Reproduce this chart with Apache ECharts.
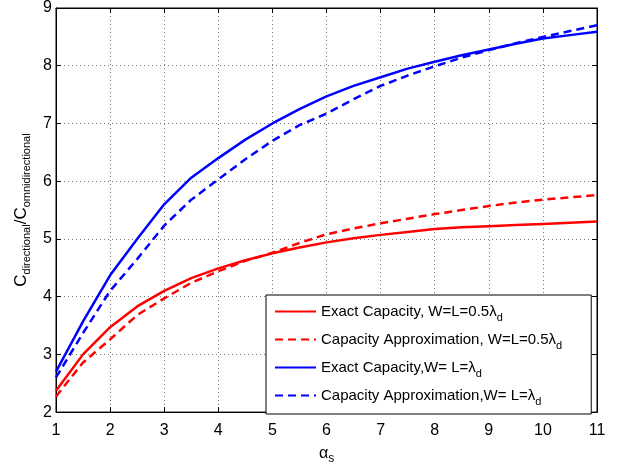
<!DOCTYPE html>
<html>
<head>
<meta charset="utf-8">
<script src="https://cdn.jsdelivr.net/npm/echarts@6/dist/echarts.min.js"></script>
<style>html,body{margin:0;padding:0;background:#fff;}#c{width:626px;height:470px;}</style>
</head>
<body>
<div id="c"></div>
<script>
var alphaS = [1,1.5,2,2.5,3,3.5,4,4.5,5,5.5,6,6.5,7,7.5,8,8.5,9,9.5,10,10.5,11];
var exactHalf   = [2.37,3.00,3.47,3.83,4.10,4.32,4.49,4.63,4.75,4.85,4.94,5.01,5.07,5.12,5.17,5.20,5.22,5.24,5.26,5.28,5.30];
var approxHalf  = [2.27,2.86,3.26,3.68,3.97,4.24,4.44,4.62,4.76,4.93,5.08,5.18,5.27,5.35,5.43,5.50,5.57,5.63,5.68,5.72,5.76];
var exactFull   = [2.70,3.57,4.37,5.00,5.60,6.06,6.40,6.72,7.00,7.25,7.47,7.65,7.80,7.95,8.07,8.18,8.28,8.38,8.47,8.53,8.59];
var approxFull  = [2.60,3.37,4.10,4.65,5.23,5.68,6.03,6.38,6.70,6.97,7.17,7.42,7.65,7.83,7.99,8.14,8.27,8.39,8.50,8.60,8.70];
var seriesNames = ['Exact Capacity, W=L=0.5λd','Capacity Approximation, W=L=0.5λd','Exact Capacity,W= L=λd','Capacity Approximation,W= L=λd'];
var legendMain = ['Exact Capacity, W=L=0.5λ','Capacity Approximation, W=L=0.5λ','Exact Capacity,W= L=λ','Capacity Approximation,W= L=λ'];
var legendSub = ['d','d','d','d'];
var xTicks = [1,2,3,4,5,6,7,8,9,10,11];
var yTicks = [2,3,4,5,6,7,8,9];

var FONT = '"Liberation Sans", Arial, Helvetica, sans-serif';
function pairs(ys){ return alphaS.map(function(x,i){return [x, ys[i]];}); }
var chart = echarts.init(document.getElementById('c'));
var axisCommon = {
  type:'value', axisLine:{show:true,lineStyle:{color:'#000',width:1}},
  axisTick:{show:true,inside:true,length:5,lineStyle:{color:'#000',width:1}}
};
var colors = ['#ff0000','#ff0000','#0000ff','#0000ff'];
var types = ['solid',[8,5],'solid',[8,5]];
var datas = [exactHalf, approxHalf, exactFull, approxFull];
var series = datas.map(function(d,i){
  return {name:seriesNames[i], type:'line', data:pairs(d), showSymbol:false, symbol:'none',
    lineStyle:{color:colors[i], width:2.5, type:types[i]}, itemStyle:{color:colors[i]}, animation:false, z:3};
});
chart.setOption({
  animation:false,
  textStyle:{fontFamily:FONT},
  grid:{left:56,right:29,top:7,bottom:49,show:true,borderColor:'#000',borderWidth:1,backgroundColor:'#fff'},
  xAxis:[Object.assign({}, axisCommon, {
    min:xTicks[0], max:xTicks[xTicks.length-1], interval:1, position:'bottom',
    axisLabel:{show:true,color:'#000',fontSize:16,margin:10,fontFamily:FONT},
    splitLine:{show:true,lineStyle:{color:'#777',width:1,type:[1,3]}},
    name:'{a|α}{s|s}', nameLocation:'middle', nameGap:18,
    nameTextStyle:{rich:{a:{fontSize:16,color:'#000',fontFamily:FONT,lineHeight:20},s:{fontSize:12,color:'#000',fontFamily:FONT,lineHeight:14,padding:[10,0,0,0]}}}
  }), Object.assign({}, axisCommon, {
    min:xTicks[0], max:xTicks[xTicks.length-1], interval:1, position:'top',
    axisLabel:{show:false}, splitLine:{show:false}
  })],
  yAxis:[Object.assign({}, axisCommon, {
    min:yTicks[0], max:yTicks[yTicks.length-1], interval:1, position:'left',
    axisLabel:{show:true,color:'#000',fontSize:16,margin:4,fontFamily:FONT},
    splitLine:{show:true,lineStyle:{color:'#777',width:1,type:[1,3]}},
    name:'{c|C}{s|directional}{c|/C}{s|omnidirectional}', nameLocation:'middle', nameGap:18, nameRotate:90,
    nameTextStyle:{rich:{c:{fontSize:17,color:'#000',fontFamily:FONT,lineHeight:20},s:{fontSize:11,color:'#000',fontFamily:FONT,lineHeight:13,padding:[10,0,0,0]}}}
  }), Object.assign({}, axisCommon, {
    min:yTicks[0], max:yTicks[yTicks.length-1], interval:1, position:'right',
    axisLabel:{show:false}, splitLine:{show:false}
  })],
  legend:{
    show:true, orient:'vertical', left:266, top:295,
    data:seriesNames,
    backgroundColor:'#fff', borderColor:'#000', borderWidth:1,
    padding:[5,29,7,8], itemGap:5, itemWidth:41, itemHeight:14,
    itemStyle:{color:'transparent',borderColor:'transparent',borderWidth:0,opacity:0},
    formatter:function(name){ var i=seriesNames.indexOf(name); return '{n|'+legendMain[i]+'}{s|'+legendSub[i]+'}'; },
    textStyle:{color:'#000',fontFamily:FONT,rich:{
      n:{fontSize:15,color:'#000',fontFamily:FONT,lineHeight:17},
      s:{fontSize:11,color:'#000',fontFamily:FONT,lineHeight:17,padding:[12,0,0,0]}
    }}
  },
  series:series
});
</script>
</body>
</html>
